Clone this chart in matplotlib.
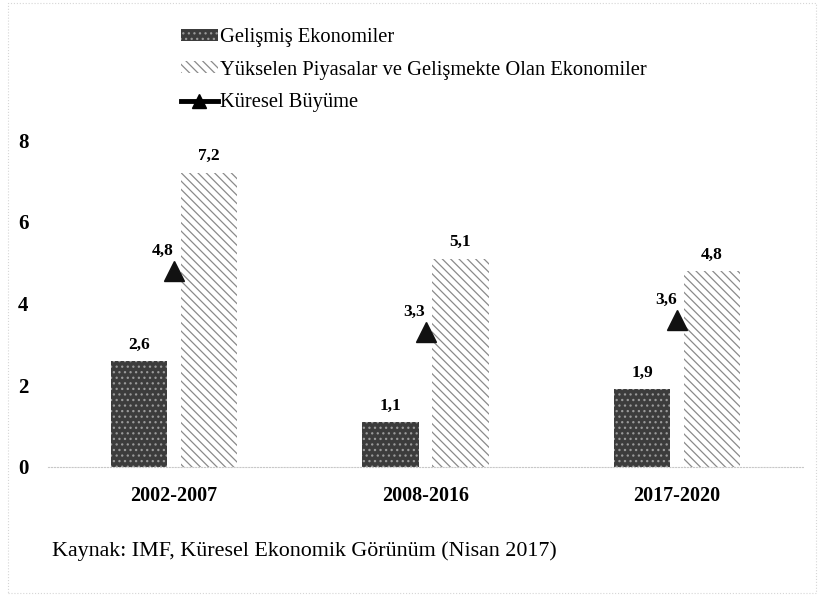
import matplotlib
matplotlib.use("Agg")
import matplotlib.pyplot as plt
import numpy as np
from matplotlib.patches import Patch, Rectangle
from matplotlib.lines import Line2D

categories = ["2002-2007", "2008-2016", "2017-2020"]
advanced = [2.6, 1.1, 1.9]
emerging = [7.2, 5.1, 4.8]
world = [4.8, 3.3, 3.6]
yticks = [0, 2, 4, 6, 8]
legend_labels = ["Gelişmiş Ekonomiler",
                 "Yükselen Piyasalar ve Gelişmekte Olan Ekonomiler",
                 "Küresel Büyüme"]
source_text = "Kaynak: IMF, Küresel Ekonomik Görünüm (Nisan 2017)"

def fmt(v):
    return f"{v:.1f}".replace(".", ",")

plt.rcParams['font.family'] = ['Liberation Serif', 'DejaVu Serif']
plt.rcParams['hatch.linewidth'] = 0.9

W, H = 820, 596
fig = plt.figure(figsize=(W / 100, H / 100), dpi=100)
ax = fig.add_axes([48 / W, (H - 467) / H, (803 - 48) / W, (467 - 140) / H])

x = np.arange(len(categories))
bw = 0.223
off = 0.139
dark_fc, dark_hc = '#3c3c3c', '#9a9a9a'
hatch_c = '#8a8a8a'
ax.bar(x - off, advanced, bw, color=dark_fc, edgecolor=dark_hc,
       hatch='...', linewidth=0)
ax.bar(x + off, emerging, bw, color='white', edgecolor=hatch_c,
       hatch='\\\\\\\\', linewidth=0)
ax.plot(x, world, linestyle='none', marker='^', markersize=14.5, color='#111111')

for xi, v in zip(x - off, advanced):
    ax.annotate(fmt(v), (xi, v), xytext=(0, 6), textcoords='offset points',
                ha='center', va='bottom', fontsize=12.5, fontweight='bold')
for xi, v in zip(x + off, emerging):
    ax.annotate(fmt(v), (xi, v), xytext=(0, 6), textcoords='offset points',
                ha='center', va='bottom', fontsize=12.5, fontweight='bold')
for xi, v in zip(x, world):
    ax.annotate(fmt(v), (xi, v), xytext=(-8, 8.5), textcoords='offset points',
                ha='center', va='bottom', fontsize=12.5, fontweight='bold')

ax.set_xlim(-0.5, 2.5)
ax.set_ylim(0, 8)
ax.set_yticks(yticks)
ax.set_yticklabels([str(t) for t in yticks], fontsize=15, fontweight='bold')
ax.set_xticks(x)
ax.set_xticklabels(categories, fontsize=14.5, fontweight='bold')
ax.tick_params(axis='y', length=0, pad=14)
ax.tick_params(axis='x', length=0, pad=14)
for s in ['top', 'right', 'left']:
    ax.spines[s].set_visible(False)
ax.spines['bottom'].set_color('#c8c8c8')
ax.spines['bottom'].set_linestyle(':')
ax.spines['bottom'].set_linewidth(0.8)

handles = [
    Patch(facecolor=dark_fc, edgecolor=dark_hc, hatch='...', linewidth=0),
    Patch(facecolor='white', edgecolor=hatch_c, hatch='\\\\\\\\', linewidth=0),
    Line2D([], [], color='black', linewidth=3.5, marker='^', markersize=10),
]
fig.legend(handles, legend_labels, loc='upper left',
           bbox_to_anchor=(181 / W, 1 - 28 / H), frameon=False,
           fontsize=14.8, handlelength=1.8, handleheight=0.5,
           handletextpad=0.12, labelspacing=0.66, borderpad=0,
           borderaxespad=0)

fig.text(52 / W, 1 - 551 / H, source_text, fontsize=15.8, ha='left', va='center')

fig.patches.append(Rectangle((8 / W, 3 / H), (816 - 8) / W, (593 - 3) / H,
                             transform=fig.transFigure, fill=False,
                             edgecolor='#d6d6d6', linestyle=':', linewidth=0.8))

fig.savefig("out.png", dpi=100)
